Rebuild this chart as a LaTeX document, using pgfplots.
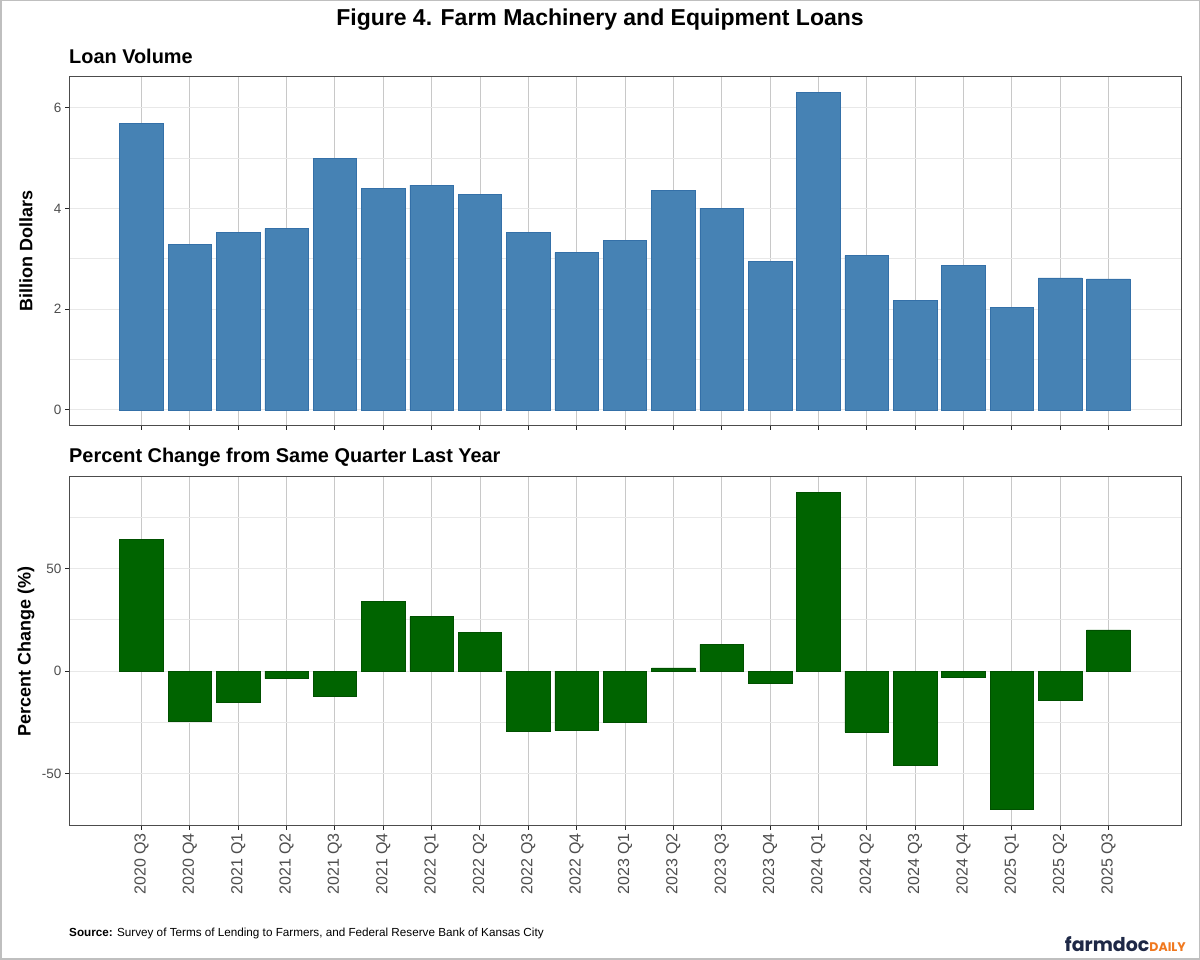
\documentclass[border=0pt]{standalone}
\usepackage{pgfplots}
\usepackage{pgfplotstable}
\pgfplotsset{compat=1.18}
\usepackage{fontspec}
\setmainfont{Liberation Sans}
\newfontfamily\logofont{Poppins}

\definecolor{steelblue}{RGB}{70,130,180}
\definecolor{barblue}{RGB}{52,112,168}
\definecolor{dkgreen}{RGB}{0,100,0}
\definecolor{gridmaj}{RGB}{232,232,232}
\definecolor{gridmin}{RGB}{244,244,244}
\definecolor{gridx}{RGB}{200,200,200}
\definecolor{ticktxt}{RGB}{77,77,77}
\definecolor{navy}{RGB}{30,40,70}
\definecolor{fdorange}{RGB}{240,120,30}

% quarterly machinery loan volume (billion $) and y/y change (%)
\pgfplotstableread[col sep=comma]{
idx,label,volume,pct
1,2020 Q3,5.69,64.1
2,2020 Q4,3.28,-24.4
3,2021 Q1,3.53,-15.1
4,2021 Q2,3.60,-3.7
5,2021 Q3,4.99,-12.2
6,2021 Q4,4.40,33.8
7,2022 Q1,4.46,26.6
8,2022 Q2,4.28,18.7
9,2022 Q3,3.53,-29.2
10,2022 Q4,3.12,-28.9
11,2023 Q1,3.36,-24.8
12,2023 Q2,4.36,1.6
13,2023 Q3,4.00,13.1
14,2023 Q4,2.94,-5.7
15,2024 Q1,6.30,87.0
16,2024 Q2,3.06,-29.7
17,2024 Q3,2.17,-45.8
18,2024 Q4,2.86,-2.9
19,2025 Q1,2.03,-67.5
20,2025 Q2,2.62,-14.4
21,2025 Q3,2.60,20.1
}\loans

\pgfplotsset{
  panel/.style={
    width=1112pt, height=349pt, scale only axis, anchor=south west,
    xmin=-0.5, xmax=22.5, xtick={1,...,21},
    ybar, bar width=0.9, bar shift=0pt,
    axis line style={black!70, line width=1pt},
    tick style={black!85, line width=1pt}, tick align=outside,
    major tick length=4pt, minor tick length=0pt,
    xtick pos=bottom, ytick pos=left,
    xmajorgrids, ymajorgrids, yminorgrids,
    x grid style={gridx, line width=0.9pt},
    y grid style={gridmaj, line width=0.9pt},
    minor grid style={gridmin, line width=0.9pt},
    /pgf/number format/assume math mode=true,
    tick label style={font=\fontsize{13.5}{15}\selectfont, text=ticktxt},
  },
}

\begin{document}
\begin{tikzpicture}
\path[use as bounding box] (0pt,0pt) rectangle (1200pt,960pt);
\fill[white] (0pt,0pt) rectangle (1200pt,960pt);
\draw[black!25, line width=1.5pt] (0.75pt,0.75pt) rectangle (1199.25pt,959.25pt);

\node[anchor=base, inner sep=0, font=\fontsize{23}{27}\selectfont\bfseries] at (600pt,934pt) {Figure 4. Farm Machinery and Equipment Loans};

% top panel: loan volume
\node[anchor=base west, inner sep=0, font=\fontsize{19.9}{23}\selectfont\bfseries] at (69pt,896.7pt) {Loan Volume};
\begin{axis}[panel, at={(69pt,534.3pt)},
    ymin=-0.315, ymax=6.615, ytick={0,2,4,6},
    minor ytick={1,3,5},
    xticklabels={}]
\addplot[fill=steelblue, draw=barblue, line width=0.6pt] table[x=idx, y=volume] {\loans};
\end{axis}
\node[rotate=90, font=\fontsize{18}{21}\selectfont\bfseries] at (26pt,709pt) {Billion Dollars};

% bottom panel: percent change
\node[anchor=base west, inner sep=0, font=\fontsize{19.9}{23}\selectfont\bfseries] at (69pt,497.3pt) {Percent Change from Same Quarter Last Year};
\begin{axis}[panel, at={(69pt,134.3pt)},
    ymin=-75.3, ymax=94.75, ytick={-50,0,50},
    minor ytick={-25,25,75},
    xticklabels from table={\loans}{label},
    xticklabel style={rotate=90, anchor=east, font=\fontsize{16}{18}\selectfont}]
\addplot[fill=dkgreen, draw=dkgreen!80!black, line width=0.6pt] table[x=idx, y=pct] {\loans};
\end{axis}
\node[rotate=90, font=\fontsize{18}{21}\selectfont\bfseries] at (26pt,308.5pt) {Percent Change (\%)};

\node[anchor=base west, inner sep=0, font=\fontsize{11.7}{13}\selectfont] at (69pt,23pt)
  {\textbf{Source:} Survey of Terms of Lending to Farmers, and Federal Reserve Bank of Kansas City};
\node[anchor=base east, inner sep=0] at (1186pt,8pt)
  {\logofont\bfseries\fontsize{19}{22}\selectfont\color{navy}farmdoc\fontsize{12.5}{14}\selectfont\color{fdorange}DAILY};
\end{tikzpicture}
\end{document}
